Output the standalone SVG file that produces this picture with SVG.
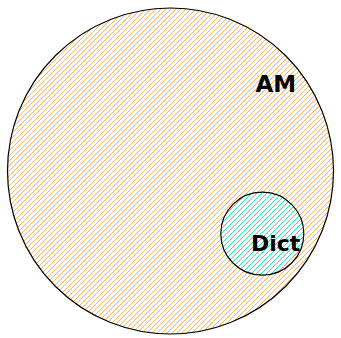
<svg xmlns="http://www.w3.org/2000/svg" width="341" height="338" viewBox="0 0 341 338">
<defs>
<pattern id="hatchOrange" patternUnits="userSpaceOnUse" width="5" height="5">
<path d="M-1,1 l2,-2 M0,5 l5,-5 M4,6 l2,-2" stroke="#f7a030" stroke-width="0.8"/>
</pattern>
<pattern id="hatchTeal" patternUnits="userSpaceOnUse" width="5" height="5">
<path d="M-1,1 l2,-2 M0,5 l5,-5 M4,6 l2,-2" stroke="#2ee0a6" stroke-width="1"/>
</pattern>
</defs>
<style>
.set{stroke:#000;stroke-width:1.2}
.lbl{font-family:"DejaVu Sans",sans-serif;font-weight:bold;fill:#000}
</style>
<g id="AM">
<circle class="set" cx="170.5" cy="171" r="163" fill="url(#hatchOrange)"/>
<text class="lbl" x="255.5" y="92" font-size="23">AM</text>
</g>
<g id="Dict">
<circle cx="262.3" cy="233.7" r="41.5" fill="#fff"/>
<circle class="set" cx="262.3" cy="233.7" r="41.5" fill="url(#hatchTeal)"/>
<text class="lbl" x="251" y="251" font-size="22">Dict</text>
</g>
<g id="connectors"></g>
</svg>
